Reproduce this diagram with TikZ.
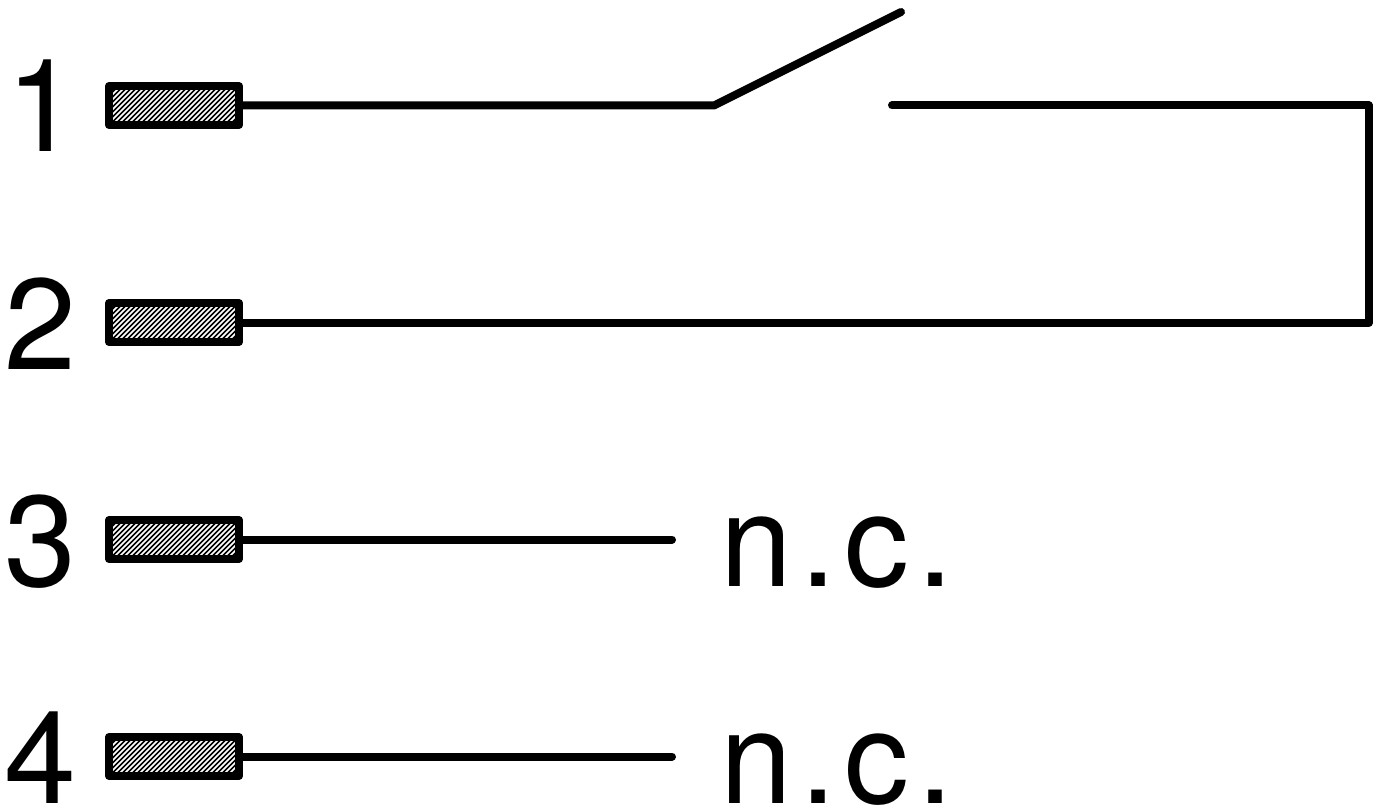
\documentclass[tikz,border=0pt]{standalone}
\usepackage{fontspec}
\setmainfont{TeX Gyre Heros}
\newfontfamily\spaced[LetterSpace=6.5]{TeX Gyre Heros}
\newcommand{\pxfont}{\fontsize{97pt}{100pt}\selectfont}
\tikzset{
  x=0.75pt,y=-0.75pt,
  wire/.style={line width=6pt,line cap=round,line join=round,black},
  terminal/.style={draw=black,line width=6pt,line join=round,fill=white,inner sep=0pt,outer sep=0pt,
    minimum width=97.5pt,minimum height=29.25pt,
    path picture={
      \foreach \k in {-40,...,40}{
        \draw[black,line width=1.2pt]
          ([xshift=\k*3.75pt-15pt,yshift=-15pt]path picture bounding box.center) --
          ([xshift=\k*3.75pt+15pt,yshift=15pt]path picture bounding box.center);
      }}},
  pin/.style={font=\pxfont,text=black,anchor=base west,inner sep=0pt,outer sep=0pt},
  nc/.style={font=\pxfont\spaced,text=black,anchor=base west,inner sep=0pt,outer sep=0pt}
}
\begin{document}
\begin{tikzpicture}
\useasboundingbox (0,0) rectangle (1384,809);
\fill[white] (0,0) rectangle (1384,809);
\foreach \n/\yy in {1/105.5,2/322.5,3/539.5,4/756.5}{
  \node[terminal] (t\n) at (174,\yy) {};
}
\node[pin] (l1) at (7,152) {1};
\node[pin] (l2) at (4,369) {2};
\node[pin] (l3) at (4,586) {3};
\node[pin] (l4) at (4,803) {4};
\node[nc] (n3) at (720,586) {n.c.};
\node[nc] (n4) at (720,803) {n.c.};
\coordinate (hinge) at (714,105.5);
\coordinate (tip) at (901,12);
\coordinate (contact) at (892,105.5);
\coordinate (cornerA) at (1369,105.5);
\coordinate (cornerB) at (1369,322.5);
\coordinate (end3) at (672,539.5);
\coordinate (end4) at (672,756.5);
\draw[wire] (t1.east) -- (hinge) -- (tip);
\draw[wire] (contact) -- (cornerA) -- (cornerB) -- (t2.east);
\draw[wire] (t3.east) -- (end3);
\draw[wire] (t4.east) -- (end4);
\end{tikzpicture}
\end{document}
